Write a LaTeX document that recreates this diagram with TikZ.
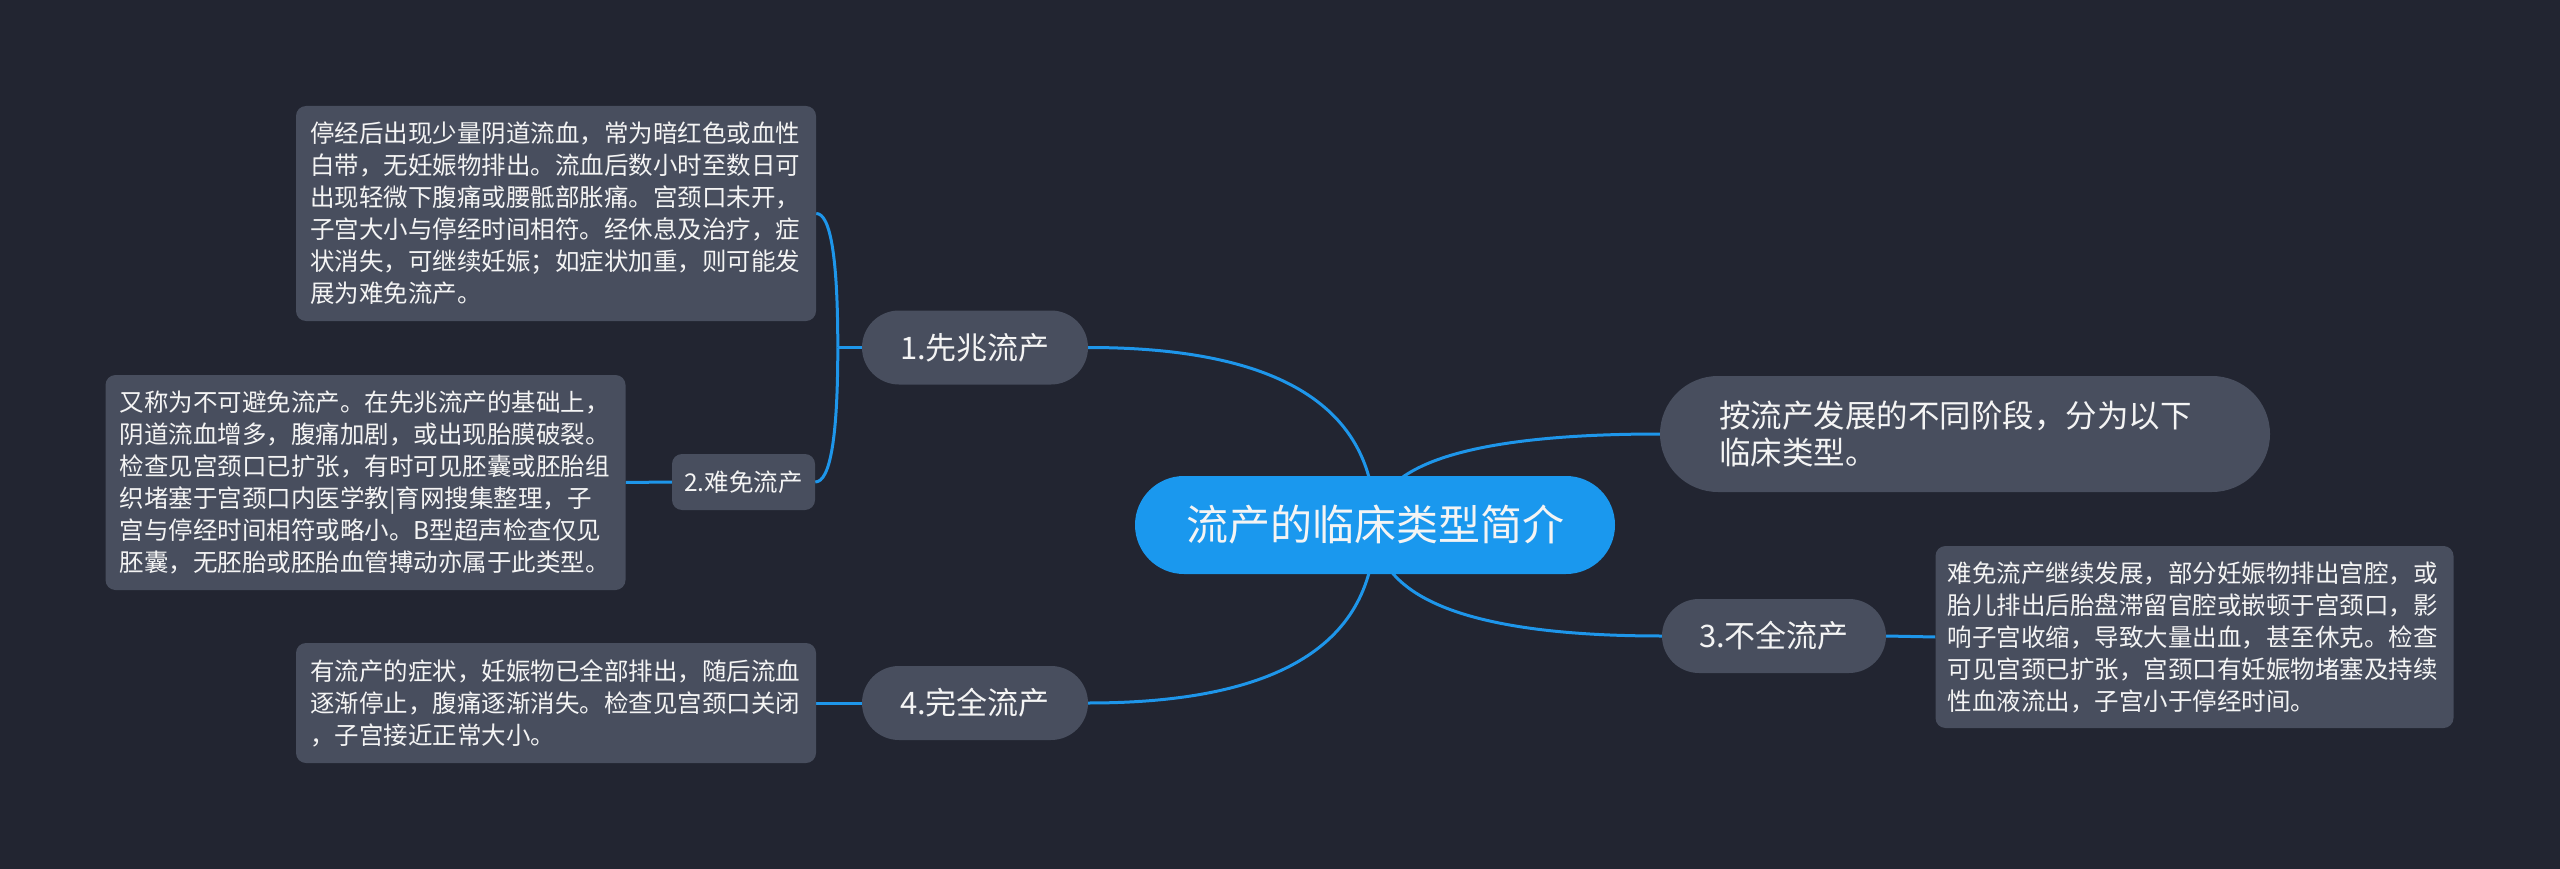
\documentclass[tikz,border=0pt]{standalone}
\usepackage{fontspec}
\newfontfamily\cjk{Noto Sans CJK SC}
\usetikzlibrary{calc}
\definecolor{bgc}{HTML}{222531}
\definecolor{nodec}{HTML}{484E5E}
\definecolor{rootc}{HTML}{1A98EE}
\definecolor{linec}{HTML}{1E96EA}
\definecolor{txtc}{HTML}{F4F4F4}
\pgfdeclarelayer{bg}
\pgfdeclarelayer{lines}
\pgfsetlayers{bg,lines,main}
\newcommand\qlink[3]{\draw[conn] (#1) .. controls ($(#1)!2/3!(#3)$) and ($(#2)!2/3!(#3)$) .. (#2);}
\tikzset{
  base/.style={text=txtc, fill=nodec, inner sep=0pt, anchor=center},
  rootbox/.style={base, fill=rootc, minimum width=480pt, minimum height=98pt, rounded corners=49pt, font=\cjk\fontsize{42}{50}\selectfont},
  pillbox/.style={base, minimum width=226pt, minimum height=74pt, rounded corners=37pt, font=\cjk\fontsize{31}{37}\selectfont},
  smallbox/.style={base, minimum width=143pt, minimum height=56pt, rounded corners=10pt, font=\cjk\fontsize{24.5}{30}\selectfont},
  notebox/.style={base, rounded corners=10pt, inner xsep=14pt, text width=492pt, align=left, font=\cjk\fontsize{24.5}{32}\selectfont},
  conn/.style={draw=linec, line width=3pt},
}
\begin{document}
\begin{tikzpicture}[x=1pt,y=-1pt]
\useasboundingbox (0,0) rectangle (2560,869);
\begin{pgfonlayer}{bg}
\fill[bgc] (0,0) rectangle (2560,869);
\end{pgfonlayer}

\node[rootbox] (root) at (1375,525) {流产的临床类型简介};
\node[base, minimum height=116pt, rounded corners=58pt, inner xsep=59pt, text width=492pt, align=left, font=\cjk\fontsize{31.5}{37}\selectfont] (intro) at (1965,434) {按流产发展的不同阶段，分为以下\\临床类型。};

\node[pillbox] (c1) at (975,347.5) {1.先兆流产};
\node[pillbox] (c4) at (975,703) {4.完全流产};
\node[pillbox, minimum width=224pt] (c3) at (1774,636) {3.不全流产};
\node[smallbox] (c2) at (743.5,482) {2.难免流产};

\node[notebox, minimum height=215pt] (n1) at (556,213.5) {停经后出现少量阴道流血，常为暗红色或血性\\白带，无妊娠物排出。流血后数小时至数日可\\出现轻微下腹痛或腰骶部胀痛。宫颈口未开，\\子宫大小与停经时间相符。经休息及治疗，症\\状消失，可继续妊娠；如症状加重，则可能发\\展为难免流产。};
\node[notebox, minimum height=215pt] (n2) at (365.5,482.5) {又称为不可避免流产。在先兆流产的基础上，\\阴道流血增多，腹痛加剧，或出现胎膜破裂。\\检查见宫颈口已扩张，有时可见胚囊或胚胎组\\织堵塞于宫颈口内医学教|育网搜集整理，子\\宫与停经时间相符或略小。B型超声检查仅见\\胚囊，无胚胎或胚胎血管搏动亦属于此类型。};
\node[notebox, minimum height=182pt, inner xsep=12pt, text width=494pt] (n3) at (2194.5,637) {难免流产继续发展，部分妊娠物排出宫腔，或\\胎儿排出后胎盘滞留官腔或嵌顿于宫颈口，影\\响子宫收缩，导致大量出血，甚至休克。检查\\可见宫颈已扩张，宫颈口有妊娠物堵塞及持续\\性血液流出，子宫小于停经时间。};
\node[notebox, minimum height=120pt] (n4) at (556,703) {有流产的症状，妊娠物已全部排出，随后流血\\逐渐停止，腹痛逐渐消失。检查见宫颈口关闭\\，子宫接近正常大小。};

\begin{pgfonlayer}{lines}
\coordinate (k1) at (root.center |- c1.east);
\coordinate (k4) at (root.center |- c4.east);
\coordinate (ki) at (root.center |- intro.west);
\coordinate (k3) at (root.center |- c3.west);
\qlink{root.center}{c1.east}{k1}
\qlink{root.center}{c4.east}{k4}
\qlink{root.center}{intro.west}{ki}
\qlink{root.center}{c3.west}{k3}
\coordinate (b1) at ($(c1.west)+(-24,0)$);
\draw[conn] (c1.west) -- (b1);
\coordinate (kn1) at (b1 |- n1.east);
\coordinate (kc2) at (b1 |- c2.east);
\qlink{b1}{n1.east}{kn1}
\qlink{b1}{c2.east}{kc2}
\draw[conn] (c2.west) -- (n2.east);
\draw[conn] (c4.west) -- (n4.east);
\draw[conn] (c3.east) -- (n3.west);
\end{pgfonlayer}
\end{tikzpicture}
\end{document}
